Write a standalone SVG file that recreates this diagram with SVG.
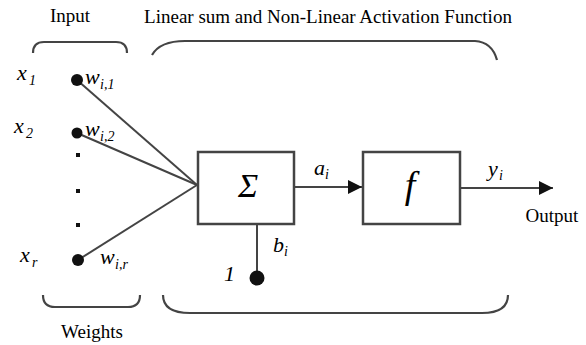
<svg xmlns="http://www.w3.org/2000/svg" width="586" height="345" viewBox="0 0 586 345">
<defs>
<marker id="arr" viewBox="0 0 10 10" refX="10" refY="5" markerWidth="18" markerHeight="14" markerUnits="userSpaceOnUse" orient="auto">
<path d="M0,0 L10,5 L0,10 Z" fill="#111"/>
</marker>
</defs>
<rect width="586" height="345" fill="#fff"/>
<g id="labels">
<text x="70" y="22" font-family="Liberation Serif" font-size="19" text-anchor="middle">Input</text>
<text x="328" y="23" font-family="Liberation Serif" font-size="19" text-anchor="middle">Linear sum and Non-Linear Activation Function</text>
<text x="92" y="338" font-family="Liberation Serif" font-size="19" text-anchor="middle">Weights</text>
<text x="552" y="222" font-family="Liberation Serif" font-size="19" text-anchor="middle">Output</text>
</g>
<g id="brackets" fill="none" stroke="#444" stroke-width="2.2">
<path d="M33,53 Q33,42 44,42 L116,42 Q127,42 127,53"/>
<path d="M152,55 Q160,41 185,41 L475,41 Q492,42 497,60"/>
<path d="M43,295 Q43,307 55,307 L128,307 Q140,307 140,295"/>
<path d="M163,295 Q163,313 190,313 L482,313 Q508,313 508,295"/>
</g>
<g id="connectors" fill="none" stroke="#444" stroke-width="2">
<line x1="77" y1="80" x2="197" y2="185"/>
<line x1="77" y1="133" x2="197" y2="185"/>
<line x1="78" y1="260" x2="197" y2="185"/>
<line x1="257" y1="224" x2="257" y2="278"/>
<line x1="294" y1="187" x2="362" y2="187" marker-end="url(#arr)"/>
<line x1="460" y1="188" x2="553" y2="188" marker-end="url(#arr)"/>
</g>
<g id="input-x1">
<circle fill="#111" cx="77" cy="80" r="6"/>
<text x="17" y="80" font-family="Liberation Serif" font-style="italic" font-size="22">x</text>
<text x="29" y="85" font-family="Liberation Serif" font-style="italic" font-size="14">1</text>
<text x="85" y="84" font-family="Liberation Serif" font-style="italic" font-size="22">w</text>
<text x="100" y="89" font-family="Liberation Serif" font-style="italic" font-size="14">i,1</text>
</g>
<g id="input-x2">
<circle fill="#111" cx="77" cy="133" r="5.5"/>
<text x="14" y="133" font-family="Liberation Serif" font-style="italic" font-size="22">x</text>
<text x="26" y="138" font-family="Liberation Serif" font-style="italic" font-size="14">2</text>
<text x="85" y="136" font-family="Liberation Serif" font-style="italic" font-size="22">w</text>
<text x="100" y="141" font-family="Liberation Serif" font-style="italic" font-size="14">i,2</text>
</g>
<g id="ellipsis" fill="#111">
<rect x="76" y="153" width="4" height="4"/>
<rect x="76" y="189" width="4" height="4"/>
<rect x="76" y="223" width="4" height="4"/>
</g>
<g id="input-xr">
<circle fill="#111" cx="78" cy="260" r="6"/>
<text x="20" y="262" font-family="Liberation Serif" font-style="italic" font-size="22">x</text>
<text x="32" y="267" font-family="Liberation Serif" font-style="italic" font-size="14">r</text>
<text x="100" y="264" font-family="Liberation Serif" font-style="italic" font-size="22">w</text>
<text x="115" y="269" font-family="Liberation Serif" font-style="italic" font-size="14">i,r</text>
</g>
<g id="sum">
<rect x="198" y="152" width="96" height="72" fill="#fff" stroke="#444" stroke-width="2.5"/>
<text x="248" y="197" font-family="Liberation Serif" font-style="italic" font-size="34" text-anchor="middle">&#931;</text>
</g>
<g id="bias">
<circle fill="#111" cx="257" cy="278" r="7.5"/>
<text x="273" y="252" font-family="Liberation Serif" font-style="italic" font-size="22">b</text>
<text x="284" y="256" font-family="Liberation Serif" font-style="italic" font-size="14">i</text>
<text x="224" y="281" font-family="Liberation Serif" font-style="italic" font-size="22">1</text>
</g>
<g id="activation">
<rect x="363" y="152" width="97" height="72" fill="#fff" stroke="#444" stroke-width="2.5"/>
<text x="410" y="198" font-family="Liberation Serif" font-style="italic" font-size="38" text-anchor="middle">f</text>
</g>
<g id="signals">
<text x="314" y="175" font-family="Liberation Serif" font-style="italic" font-size="22">a</text>
<text x="325" y="179" font-family="Liberation Serif" font-style="italic" font-size="14">i</text>
<text x="488" y="176" font-family="Liberation Serif" font-style="italic" font-size="22">y</text>
<text x="499" y="180" font-family="Liberation Serif" font-style="italic" font-size="14">i</text>
</g>
</svg>
